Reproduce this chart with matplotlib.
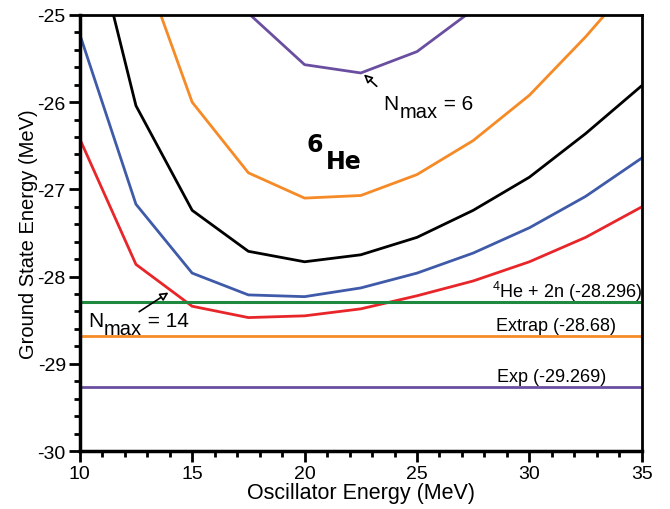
import numpy as np
import matplotlib
matplotlib.use("Agg")
from matplotlib import pyplot as plt
from matplotlib.ticker import MultipleLocator, FuncFormatter

plt.rcParams['font.family'] = ['Liberation Sans', 'DejaVu Sans']
plt.rcParams['mathtext.fontset'] = 'custom'
plt.rcParams['mathtext.rm'] = 'Liberation Sans'
plt.rcParams['mathtext.it'] = 'Liberation Sans'
plt.rcParams['mathtext.bf'] = 'Liberation Sans:bold'

# oscillator energies (MeV)
hw = [10, 12.5, 15, 17.5, 20, 22.5, 25, 27.5, 30, 32.5, 35]

# ground state energies for each Nmax (MeV)
e_n6 = [np.nan, np.nan, -24.3, -24.98, -25.57, -25.665, -25.42, -24.94, -24.4, np.nan, np.nan]
e_n8 = [np.nan, -24.21, -26.0, -26.81, -27.10, -27.07, -26.83, -26.44, -25.92, -25.25, -24.51]
e_n10 = [-23.44, -26.04, -27.24, -27.71, -27.83, -27.75, -27.55, -27.24, -26.86, -26.36, -25.81]
e_n12 = [-25.22, -27.17, -27.96, -28.21, -28.23, -28.13, -27.96, -27.73, -27.44, -27.08, -26.64]
e_n14 = [-26.42, -27.86, -28.34, -28.47, -28.45, -28.37, -28.22, -28.05, -27.83, -27.55, -27.20]

# reference energies
e_thresh = -28.296
e_extrap = -28.68
e_exp = -29.269

fig = plt.figure(figsize=(6.7, 5.1), dpi=100)
ax = fig.add_axes([0.119, 0.1137, 0.839, 0.855])

ax.plot(hw, e_n6, color='#6a4fa0', lw=2)
ax.plot(hw, e_n8, color='#f58a26', lw=2)
ax.plot(hw, e_n10, color='black', lw=2)
ax.plot(hw, e_n12, color='#3f5aa8', lw=2)
ax.plot(hw, e_n14, color='#e8262a', lw=2)

ax.axhline(e_thresh, color='#1f8a3f', lw=2.2)
ax.axhline(e_extrap, color='#f58a26', lw=2)
ax.axhline(e_exp, color='#6a4fa0', lw=2)

ax.set_xlim(10, 35)
ax.set_ylim(-30, -25)
ax.xaxis.set_major_locator(MultipleLocator(5))
ax.xaxis.set_minor_locator(MultipleLocator(1))
ax.yaxis.set_major_locator(MultipleLocator(1))
ax.yaxis.set_minor_locator(MultipleLocator(0.2))
ax.tick_params(which='major', direction='out', length=8, width=2, labelsize=14, pad=2)
ax.tick_params(which='minor', direction='out', length=4, width=2)
ax.tick_params(top=False, right=False)
ax.yaxis.set_major_formatter(FuncFormatter(lambda v, p: '%d' % v))
for s in ['left', 'bottom']:
    ax.spines[s].set_linewidth(2.5)
for s in ['top', 'right']:
    ax.spines[s].set_linewidth(2)

ax.set_xlabel('Oscillator Energy (MeV)', fontsize=15.5, labelpad=0)
ax.set_ylabel('Ground State Energy (MeV)', fontsize=14.5, labelpad=0)

# nucleus label, mass number raised
ax.text(20.10, -26.56, '6', fontsize=17, fontweight='bold', family='DejaVu Sans',
        va='baseline', ha='left')
ax.text(20.95, -26.755, 'He', fontsize=17, fontweight='bold', family='DejaVu Sans',
        va='baseline', ha='left')


def nmax_label(x, y, value):
    """N with a full size 'max' subscript, then '= value'."""
    t1 = ax.text(x, y, 'N', fontsize=15, va='baseline', ha='left')
    t2 = ax.annotate('max', xy=(1, 0), xycoords=t1, xytext=(0.3, -2.6),
                     textcoords='offset points', fontsize=14.5, va='baseline')
    ax.annotate(' = ' + value, xy=(1, 0), xycoords=(t2, t1), xytext=(0, 3.2),
                textcoords='offset points', fontsize=15, va='baseline')


arrow = dict(arrowstyle='-|>', fc='white', ec='black', lw=1.2, mutation_scale=12)
ax.annotate('', xy=(22.55, -25.66), xytext=(23.3, -25.84), arrowprops=arrow)
nmax_label(23.52, -26.078, '6')
ax.annotate('', xy=(14.05, -28.165), xytext=(12.54, -28.42), arrowprops=arrow)
nmax_label(10.36, -28.57, '14')

ax.text(35, -28.17, r'$^{4}$He + 2n (-28.296)', fontsize=13, va='center', ha='right')
ax.text(31.2, -28.56, 'Extrap (-28.68)', fontsize=13, va='center', ha='center')
ax.text(31.0, -29.15, 'Exp (-29.269)', fontsize=13, va='center', ha='center')

fig.savefig('out.png', dpi=100)
